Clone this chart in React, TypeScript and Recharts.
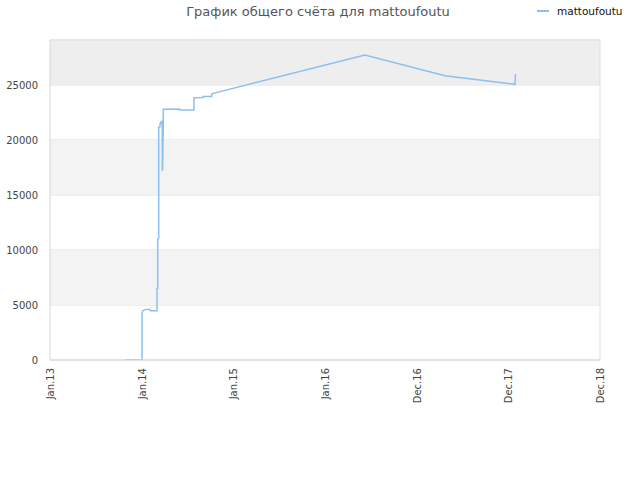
import { LineChart, Line, XAxis, YAxis, CartesianGrid, ReferenceArea, ReferenceLine } from 'recharts'

// x: years since Jan 2013 (tick spacing on the axis), y: total score
const times = [
  0.818, 1.004, 1.004, 1.015, 1.044, 1.091, 1.096, 1.167, 1.167, 1.175, 1.175, 1.186,
  1.186, 1.2, 1.2, 1.211, 1.211, 1.225, 1.225, 1.228, 1.236, 1.236, 1.411, 1.413,
  1.571, 1.571, 1.669, 1.669, 1.764, 1.764, 3.436, 4.309, 5.073, 5.078,
]
const scores = [
  0, 0, 4340, 4500, 4600, 4600, 4480, 4480, 6500, 6520, 11000, 11050,
  21150, 21200, 21500, 21520, 21670, 21700, 17270, 17300, 21450, 22800, 22820, 22730,
  22730, 23850, 23860, 23950, 23960, 24200, 27730, 25850, 25060, 26000,
]
const xTicks = [0, 1, 2, 3, 4, 5, 6]
const xLabels = ['Jan.13', 'Jan.14', 'Jan.15', 'Jan.16', 'Dec.16', 'Dec.17', 'Dec.18']
const yTicks = [0, 5000, 10000, 15000, 20000, 25000]
const yMax = 29090

const data = times.map((t, i) => ({ t, score: scores[i] }))

const FONT = '"DejaVu Sans", Verdana, sans-serif'
const LINE_COLOR = '#8cc0f1'

function XTick({ x, y, payload }: any) {
  return (
    <text
      x={x}
      y={y}
      dy={4}
      transform={`rotate(-90, ${x}, ${y})`}
      textAnchor="end"
      fontSize={10}
      fontFamily={FONT}
      fill="#444"
    >
      {xLabels[payload.index] ?? xLabels[xTicks.indexOf(payload.value)]}
    </text>
  )
}

export default function App() {
  return (
    <div style={{ position: 'absolute', left: 0, top: 0, width: 640, height: 480, background: '#fff' }}>
      <div
        style={{
          position: 'absolute', left: 0, width: 636, top: 4, textAlign: 'center',
          fontFamily: FONT, fontSize: 13, color: '#555',
        }}
      >
        График общего счёта для mattoufoutu
      </div>
      <div style={{ position: 'absolute', left: 537, top: 5, display: 'flex', alignItems: 'center', fontFamily: FONT, fontSize: 10.5, color: '#111' }}>
        <span style={{ display: 'inline-block', width: 12, height: 2, background: LINE_COLOR, marginRight: 8 }} />
        mattoufoutu
      </div>
      <LineChart width={640} height={480} data={data} margin={{ top: 40, right: 40, left: 0, bottom: 0 }}>
        <ReferenceArea y1={25000} y2={yMax} fill="#eeeeee" fillOpacity={1} stroke="none" ifOverflow="hidden" />
        <ReferenceArea y1={15000} y2={20000} fill="#f3f3f3" fillOpacity={1} stroke="none" />
        <ReferenceArea y1={5000} y2={10000} fill="#f3f3f3" fillOpacity={1} stroke="none" />
        <CartesianGrid vertical={false} stroke="#dedede" />
        <ReferenceLine y={yMax} stroke="#dedede" ifOverflow="visible" />
        <ReferenceLine x={6} stroke="#dedede" />
        <XAxis
          dataKey="t"
          type="number"
          domain={[0, 6]}
          ticks={xTicks}
          interval={0}
          height={120}
          tick={<XTick />}
          tickLine={false}
          axisLine={{ stroke: '#d6d6d6' }}
        />
        <YAxis
          type="number"
          domain={[0, yMax]}
          ticks={yTicks}
          interval={0}
          width={50}
          allowDataOverflow
          tickLine={false}
          tickMargin={6}
          axisLine={{ stroke: '#d6d6d6' }}
          tick={{ fontSize: 10, fontFamily: FONT, fill: '#444' }}
        />
        <Line
          type="linear"
          dataKey="score"
          stroke={LINE_COLOR}
          strokeWidth={1.5}
          dot={false}
          isAnimationActive={false}
        />
      </LineChart>
    </div>
  )
}
